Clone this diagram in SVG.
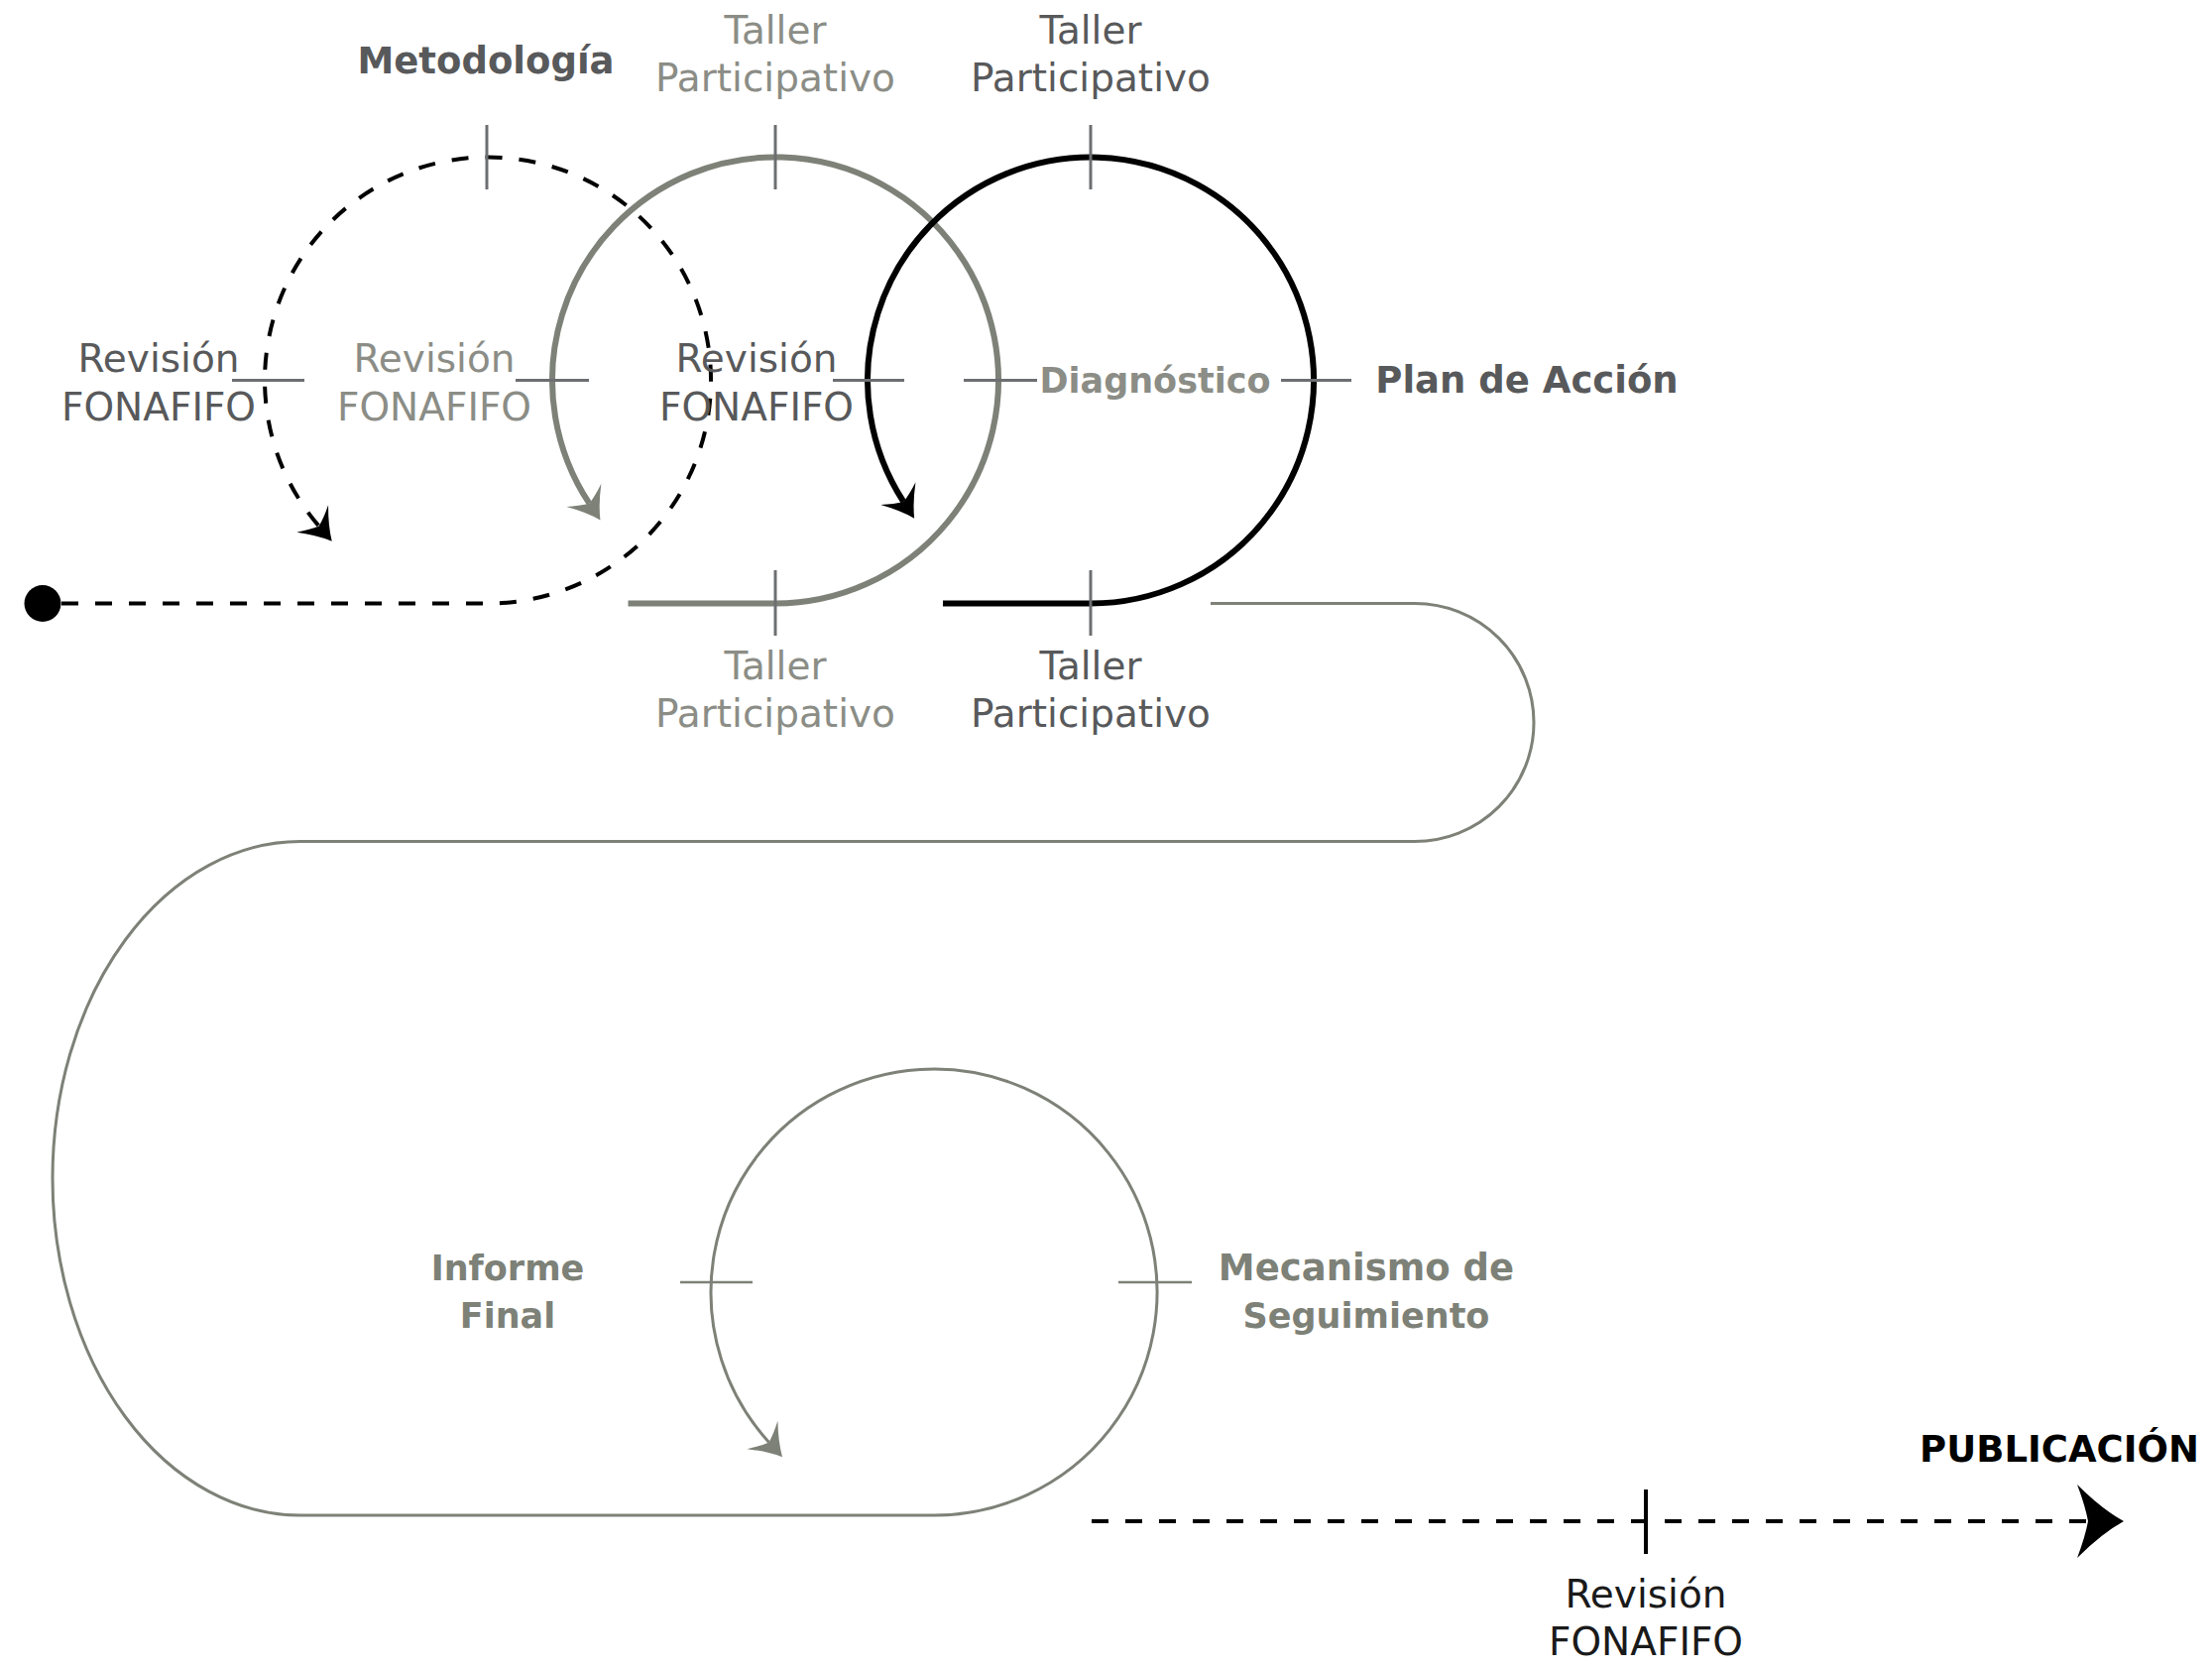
<svg xmlns="http://www.w3.org/2000/svg" width="2231" height="1682" viewBox="0 0 2231 1682">
<style>
text{font-family:"DejaVu Sans","Liberation Sans",sans-serif;text-anchor:middle}
.r{font-size:39px}
.b{font-size:37px;font-weight:bold}
.s{font-size:35px}
.dk{fill:#58595b}
.lg{fill:#8b8d86}
.gg{fill:#7d8177}
.bk{fill:#1a1a1a}
.tick{stroke:#6d6e71;stroke-width:3;fill:none}
.tickg{stroke:#7d8177;stroke-width:2.5;fill:none}
.dash{stroke:#000;stroke-width:4;stroke-dasharray:17 17;fill:none}
.gray{stroke:#7d8177;stroke-width:6;fill:none}
.black{stroke:#000;stroke-width:6;fill:none}
.thin{stroke:#7d8177;stroke-width:3;fill:none}
</style>
<defs>
<marker id="ahK" markerUnits="userSpaceOnUse" orient="auto" refX="0" refY="0" markerWidth="10" markerHeight="10" overflow="visible">
<path d="M20,0 Q6,-7 -10,-21 Q-3,-9 0,0 Q-3,9 -10,21 Q6,7 20,0 Z" fill="#000"/>
</marker>
<marker id="ahG" markerUnits="userSpaceOnUse" orient="auto" refX="0" refY="0" markerWidth="10" markerHeight="10" overflow="visible">
<path d="M20,0 Q6,-7 -10,-21 Q-3,-9 0,0 Q-3,9 -10,21 Q6,7 20,0 Z" fill="#7d8177"/>
</marker>
<marker id="ahP" markerUnits="userSpaceOnUse" orient="auto" refX="0" refY="0" markerWidth="10" markerHeight="10" overflow="visible">
<path d="M36,0 Q14,-12 -11,-37 Q-3,-16 0,0 Q-3,16 -11,37 Q14,12 36,0 Z" fill="#000"/>
</marker>
</defs>
<rect width="2231" height="1682" fill="#fff"/>

<g id="connectors">
<path class="dash" d="M62,608.5 L492,608.5 A225,225 0 1 0 321.7,530.5" marker-end="url(#ahK)"/>
<path class="gray" d="M633.5,608.5 L782,608.5 A225,225 0 1 0 594.4,507.7" marker-end="url(#ahG)"/>
<path class="black" d="M951,608.5 L1100,608.5 A225,225 0 1 0 911.3,506" marker-end="url(#ahK)"/>
<path class="thin" d="M1221,608.5 L1427,608.5 A120,120 0 0 1 1427,848.5 L303,848.5 A250,339.75 0 0 0 303,1528 L942,1528 A225,225 0 1 0 775.6,1454.4" marker-end="url(#ahG)"/>
<path class="dash" d="M1101,1534 L2106,1534" stroke-width="3.5" marker-end="url(#ahP)"/>
<g id="ticks">
<line class="tick" x1="491" y1="126" x2="491" y2="191"/>
<line class="tick" x1="782" y1="126" x2="782" y2="191"/>
<line class="tick" x1="1100" y1="126" x2="1100" y2="191"/>
<line class="tick" x1="782" y1="575" x2="782" y2="641"/>
<line class="tick" x1="1100" y1="575" x2="1100" y2="641"/>
<line class="tick" x1="234" y1="383.5" x2="307" y2="383.5"/>
<line class="tick" x1="520" y1="383.5" x2="594" y2="383.5"/>
<line class="tick" x1="840" y1="383.5" x2="912" y2="383.5"/>
<line class="tick" x1="972" y1="383.5" x2="1046" y2="383.5"/>
<line class="tick" x1="1292" y1="383.5" x2="1363" y2="383.5"/>
<line class="tickg" x1="686" y1="1293" x2="759" y2="1293"/>
<line class="tickg" x1="1128" y1="1293" x2="1202" y2="1293"/>
<line x1="1660" y1="1502" x2="1660" y2="1567" stroke="#000" stroke-width="4"/>
</g>
</g>

<g id="start"><circle cx="43" cy="608.5" r="18.5" fill="#000"/></g>

<g id="metodologia"><text class="b dk" x="490" y="74">Metodología</text></g>
<g id="taller-top-1"><text class="r lg" x="782" y="44">Taller</text><text class="r lg" x="782" y="92">Participativo</text></g>
<g id="taller-top-2"><text class="r dk" x="1100" y="44">Taller</text><text class="r dk" x="1100" y="92">Participativo</text></g>
<g id="taller-bot-1"><text class="r lg" x="782" y="685">Taller</text><text class="r lg" x="782" y="733">Participativo</text></g>
<g id="taller-bot-2"><text class="r dk" x="1100" y="685">Taller</text><text class="r dk" x="1100" y="733">Participativo</text></g>
<g id="revision-1"><text class="r dk" x="160" y="375">Revisión</text><text class="r dk" x="160" y="424">FONAFIFO</text></g>
<g id="revision-2"><text class="r lg" x="438" y="375">Revisión</text><text class="r lg" x="438" y="424">FONAFIFO</text></g>
<g id="revision-3"><text class="r dk" x="763" y="375">Revisión</text><text class="r dk" x="763" y="424">FONAFIFO</text></g>
<g id="diagnostico"><text class="b s lg" x="1165" y="396">Diagnóstico</text></g>
<g id="plan"><text class="b dk" x="1540" y="396">Plan de Acción</text></g>
<g id="informe"><text class="b s gg" x="512" y="1291">Informe</text><text class="b s gg" x="512" y="1339">Final</text></g>
<g id="mecanismo"><text class="b gg" x="1378" y="1291">Mecanismo de</text><text class="b s gg" x="1378" y="1339">Seguimiento</text></g>
<g id="publicacion"><text class="b" x="2077" y="1474" fill="#000" font-size="35">PUBLICACIÓN</text></g>
<g id="revision-4"><text class="r bk" x="1660" y="1621">Revisión</text><text class="r bk" x="1660" y="1669">FONAFIFO</text></g>
</svg>
